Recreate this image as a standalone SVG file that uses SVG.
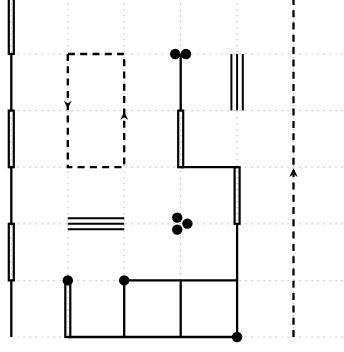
<svg xmlns="http://www.w3.org/2000/svg" width="344" height="352" viewBox="0 0 344 352">
<style>
.grid{stroke:#bbb;stroke-width:1;stroke-dasharray:1.5 4.5;fill:none}
.ln{stroke:#000;stroke-width:2.3;fill:none}
.dbl{stroke:#000;stroke-width:2.2;fill:none}
.tri{stroke:#000;stroke-width:2;fill:none}
.dash{stroke:#000;stroke-width:2.3;fill:none;stroke-dasharray:7 5.3}
.dot{fill:#000}
.arr{fill:#000}
</style>
<rect width="344" height="352" fill="#fff"/>
<g id="grid">
<path class="grid" d="M11.3,-3V337 M67.8,-3V337 M124.2,-3V337 M180.7,-3V337 M237.1,-3V337 M293.5,-3V337"/>
<path class="grid" d="M11.3,54H344 M11.3,110.6H344 M11.3,167.2H344 M11.3,223.8H344 M11.3,280.4H344 M11.3,337H344"/>
</g>
<g id="connectors">
<g id="left-line">
<rect class="dbl" x="8.8" y="-6" width="5" height="60"/>
<line class="ln" x1="11.3" y1="54" x2="11.3" y2="110.6"/>
<rect class="dbl" x="8.8" y="110.6" width="5" height="56.6"/>
<line class="ln" x1="11.3" y1="167.2" x2="11.3" y2="223.8"/>
<rect class="dbl" x="8.8" y="223.8" width="5" height="56.6"/>
<line class="ln" x1="11.3" y1="280.4" x2="11.3" y2="337"/>
</g>
<g id="loop">
<path class="dash" d="M67.8,54V167.2H124.2V54Z"/>
<polygon class="arr" points="67.8,108.5 63.8,100.8 67.8,103.3 71.8,100.8"/>
<polygon class="arr" points="124.2,112 120.2,119.7 124.2,117.2 128.2,119.7"/>
</g>
<g id="right-dashed">
<line class="dash" x1="293.5" y1="337" x2="293.5" y2="-3"/>
<polygon class="arr" points="293.5,168 289.3,177 293.5,174.2 297.7,177"/>
</g>
<g id="stair">
<line class="ln" x1="180.7" y1="54" x2="180.7" y2="110.6"/>
<rect class="dbl" x="178.2" y="110.6" width="5" height="56.6"/>
<line class="ln" x1="180.7" y1="167.2" x2="237.1" y2="167.2"/>
<rect class="dbl" x="234.6" y="167.2" width="5" height="56.6"/>
<line class="ln" x1="237.1" y1="223.8" x2="237.1" y2="337"/>
</g>
<g id="triple-v">
<path class="tri" d="M231.4,54V110.6 M237.1,54V110.6 M242.8,54V110.6"/>
</g>
<g id="triple-h">
<path class="tri" d="M67.8,218.3H124.2 M67.8,223.8H124.2 M67.8,229.3H124.2"/>
</g>
<g id="bottom">
<rect class="dbl" x="65.3" y="280.4" width="5" height="56.6"/>
<line class="ln" x1="67.8" y1="337" x2="237.1" y2="337"/>
<line class="ln" x1="124.2" y1="280.4" x2="237.1" y2="280.4"/>
<line class="ln" x1="124.2" y1="280.4" x2="124.2" y2="337"/>
<line class="ln" x1="180.7" y1="280.4" x2="180.7" y2="337"/>
</g>
</g>
<g id="node-top-pair">
<circle class="dot" cx="175.2" cy="54" r="5.2"/>
<circle class="dot" cx="186" cy="54" r="5.2"/>
</g>
<g id="node-cluster">
<circle class="dot" cx="177.2" cy="217.6" r="5.2"/>
<circle class="dot" cx="177.2" cy="229.6" r="5.2"/>
<circle class="dot" cx="187.4" cy="223.6" r="5.2"/>
</g>
<g id="node-a"><circle class="dot" cx="67.8" cy="280.4" r="5.2"/></g>
<g id="node-b"><circle class="dot" cx="124.2" cy="280.4" r="5.2"/></g>
<g id="node-c"><circle class="dot" cx="237.1" cy="337" r="5.2"/></g>
</svg>
